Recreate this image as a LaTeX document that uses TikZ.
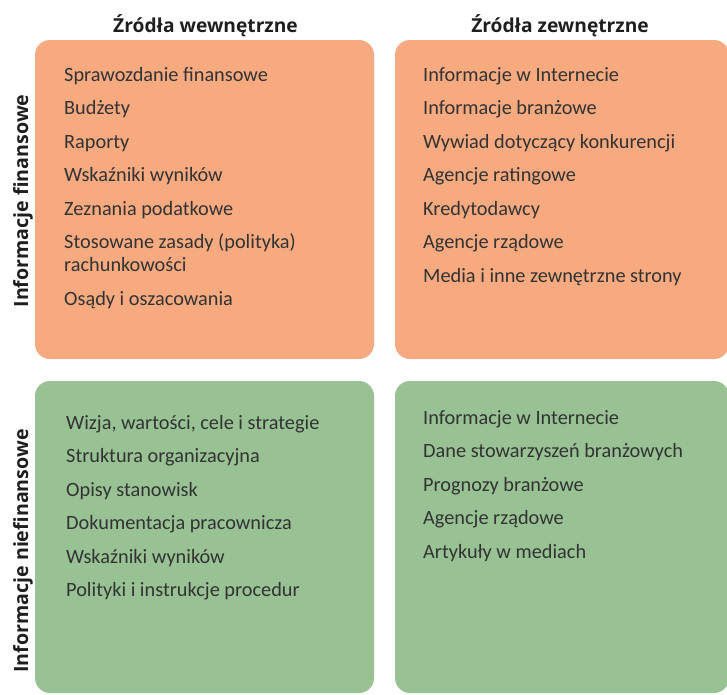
\documentclass[tikz,border=0pt]{standalone}
\usepackage{fontspec}
\setmainfont{Carlito}
\newfontfamily\headfont{Open Sans}
\begin{document}
\begin{tikzpicture}[x=1pt,y=-1pt,
  panel/.style={inner sep=0pt, outer sep=0pt, rounded corners=15pt, anchor=north west},
  fin/.style={panel, fill=finorange},
  nonfin/.style={panel, fill=nonfingreen},
  item/.style={anchor=base west, inner sep=0pt, text=itemgray, font=\fontsize{20.3}{23}\selectfont, align=left},
  colhead/.style={anchor=base, inner sep=0pt, text=headblack, font=\headfont\fontsize{19.2}{23}\selectfont\bfseries},
  rowhead/.style={anchor=base, inner sep=0pt, text=headblack, font=\headfont\fontsize{19.6}{23}\selectfont\bfseries, rotate=90}]
\definecolor{finorange}{HTML}{F7A97F}
\definecolor{nonfingreen}{HTML}{98C294}
\definecolor{itemgray}{HTML}{333333}
\definecolor{headblack}{HTML}{1E1E1E}
\useasboundingbox (0,0) rectangle (727,694);

% four quadrants
\node[fin, minimum width=339pt, minimum height=319pt] (tl) at (35,40) {};
\node[fin, minimum width=334pt, minimum height=319pt] (tr) at (395,40) {};
\node[nonfin, minimum width=339pt, minimum height=312pt] (bl) at (35,381) {};
\node[nonfin, minimum width=334pt, minimum height=312pt] (br) at (395,381) {};

% column headings
\node[colhead] (hin) at (205.5,32) {Źródła wewnętrzne};
\node[colhead] (hout) at (560,32) {Źródła zewnętrzne};

% row headings
\node[rowhead] (rfin) at (28,201) {Informacje finansowe};
\node[rowhead] (rnon) at (28,551) {Informacje niefinansowe};

% internal, financial
\node[item] (a1) at (64,81) {Sprawozdanie finansowe};
\node[item] (a2) at (64,114.5) {Budżety};
\node[item] (a3) at (64,148) {Raporty};
\node[item] (a4) at (64,181.5) {Wskaźniki wyników};
\node[item] (a5) at (64,215) {Zeznania podatkowe};
\node[item] (a6) at (64,271.5) {Stosowane zasady (polityka)\\rachunkowości};
\node[item] (a7) at (64,305.5) {Osądy i oszacowania};

% external, financial
\node[item] (b1) at (423,81) {Informacje w Internecie};
\node[item] (b2) at (423,114.5) {Informacje branżowe};
\node[item] (b3) at (423,148) {Wywiad dotyczący konkurencji};
\node[item] (b4) at (423,181.5) {Agencje ratingowe};
\node[item] (b5) at (423,215) {Kredytodawcy};
\node[item] (b6) at (423,248.5) {Agencje rządowe};
\node[item] (b7) at (423,282) {Media i inne zewnętrzne strony};

% internal, non-financial
\node[item] (c1) at (66,429) {Wizja, wartości, cele i strategie};
\node[item] (c2) at (66,462.5) {Struktura organizacyjna};
\node[item] (c3) at (66,496) {Opisy stanowisk};
\node[item] (c4) at (66,529.5) {Dokumentacja pracownicza};
\node[item] (c5) at (66,563) {Wskaźniki wyników};
\node[item] (c6) at (66,596.5) {Polityki i instrukcje procedur};

% external, non-financial
\node[item] (d1) at (423,424) {Informacje w Internecie};
\node[item] (d2) at (423,457.5) {Dane stowarzyszeń branżowych};
\node[item] (d3) at (423,491) {Prognozy branżowe};
\node[item] (d4) at (423,524.5) {Agencje rządowe};
\node[item] (d5) at (423,558) {Artykuły w mediach};
\end{tikzpicture}
\end{document}
